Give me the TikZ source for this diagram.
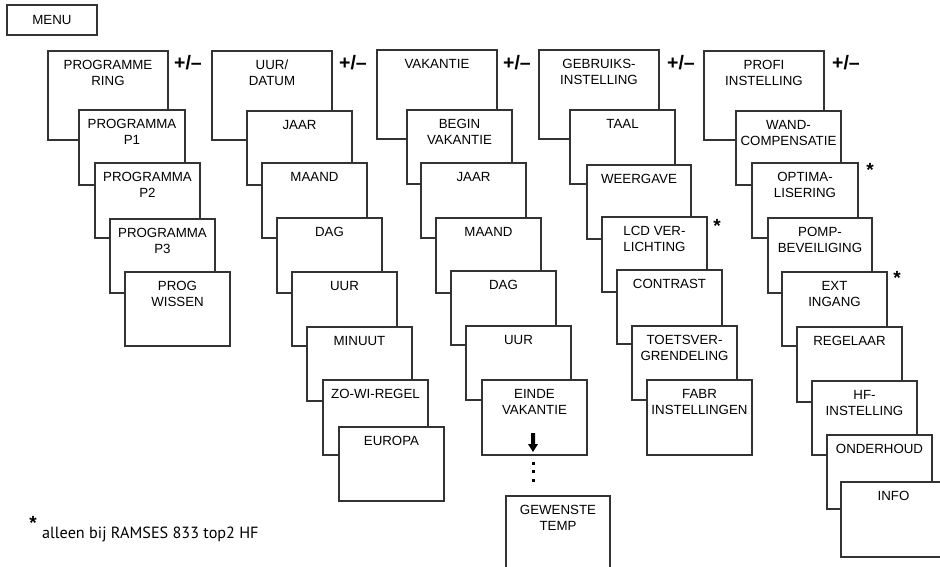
\documentclass[tikz,border=0pt]{standalone}
\usepackage{fontspec}
\setmainfont{Liberation Sans}
\newfontfamily\notefont{PT Sans}
\newcommand\mb[3]{\parbox[t][#2pt][t]{#1pt}{\centering\hyphenpenalty=10000\rule{0pt}{18.5pt}#3\par}}
\begin{document}
\begin{tikzpicture}[x=1pt,y=-1pt,
  mbox/.style={draw=black!80, fill=white, line width=1.1pt, inner sep=0pt, outer sep=0pt, anchor=north west,
    font=\fontsize{13.3}{16}\selectfont},
  pm/.style={font=\fontsize{19.5}{19.5}\selectfont\bfseries, inner sep=0pt},
  star/.style={font=\fontsize{19}{19}\selectfont\bfseries, inner sep=0pt}]
\useasboundingbox (0,0) rectangle (940,567);
\clip (0,0) rectangle (940,567);
% MENU
\node[mbox] (menu) at (7,5) {\parbox[t][30pt][t]{90pt}{\centering\rule{0pt}{19.5pt}MENU\par}};
% column 1
\node[mbox] (c1h) at (48,51) {\mb{120}{89}{PROGRAMME\\RING}};
\node[mbox] (c1a) at (79,110) {\mb{106}{75}{PROGRAMMA\\P1}};
\node[mbox] (c1b) at (95,163) {\mb{105}{75}{PROGRAMMA\\P2}};
\node[mbox] (c1c) at (110,219) {\mb{105}{74}{PROGRAMMA\\P3}};
\node[mbox] (c1d) at (125,272) {\mb{105}{74}{PROG\\WISSEN}};
% column 2
\node[mbox] (c2h) at (212,51) {\mb{120}{89}{UUR/\\DATUM}};
\node[mbox] (c2a) at (247,111) {\mb{105}{74}{JAAR}};
\node[mbox] (c2b) at (262,163) {\mb{105}{75}{MAAND}};
\node[mbox] (c2c) at (277,218) {\mb{105}{75}{DAG}};
\node[mbox] (c2d) at (292,272) {\mb{105}{74}{UUR}};
\node[mbox] (c2e) at (307,327) {\mb{105}{74}{MINUUT}};
\node[mbox] (c2f) at (323,380) {\mb{105}{75}{ZO-WI-REGEL}};
\node[mbox] (c2g) at (339,427) {\mb{105}{74}{EUROPA}};
% column 3
\node[mbox] (c3h) at (377,50) {\mb{120}{89}{VAKANTIE}};
\node[mbox] (c3a) at (407,110) {\mb{105}{74}{BEGIN\\VAKANTIE}};
\node[mbox] (c3b) at (421,163) {\mb{105}{75}{JAAR}};
\node[mbox] (c3c) at (436,218) {\mb{105}{75}{MAAND}};
\node[mbox] (c3d) at (451,271) {\mb{105}{74}{DAG}};
\node[mbox] (c3e) at (466,326) {\mb{105}{74}{UUR}};
\node[mbox] (c3f) at (482,380) {\mb{105}{75}{EINDE\\VAKANTIE}};
\node[mbox] (c3g) at (506,496) {\mb{104}{80}{GEWENSTE\\TEMP}};
% arrow and dots
\fill[black] (531,433) -- (535,433) -- (535,444) -- (538,444) -- (533,452) -- (528,444) -- (531,444) -- cycle;
\foreach \yy in {463,471.5,480} \fill[black] (531.5,\yy-1.5) rectangle (534.5,\yy+1.5);
% column 4
\node[mbox] (c4h) at (539,50) {\mb{120}{89}{GEBRUIKS-\\INSTELLING}};
\node[mbox] (c4a) at (570,110) {\mb{105}{74}{TAAL}};
\node[mbox] (c4b) at (587,165) {\mb{104}{74}{WEERGAVE}};
\node[mbox] (c4c) at (602,217) {\mb{105}{75}{LCD VER-\\LICHTING}};
\node[mbox] (c4d) at (617,270) {\mb{105}{74}{CONTRAST}};
\node[mbox] (c4e) at (632,326) {\mb{105}{74}{TOETSVER-\\GRENDELING}};
\node[mbox] (c4f) at (647,380) {\mb{105}{75}{FABR\\INSTELLINGEN}};
% column 5
\node[mbox] (c5h) at (704,51) {\mb{120}{89}{PROFI\\INSTELLING}};
\node[mbox] (c5a) at (736,111) {\mb{105}{74}{WAND-\\COMPENSATIE}};
\node[mbox] (c5b) at (752,163) {\mb{106}{75}{OPTIMA-\\LISERING}};
\node[mbox] (c5c) at (768,218) {\mb{104}{75}{POMP-\\BEVEILIGING}};
\node[mbox] (c5d) at (782,272) {\mb{105}{74}{EXT\\INGANG}};
\node[mbox] (c5e) at (797,327) {\mb{105}{75}{REGELAAR}};
\node[mbox] (c5f) at (812,381) {\mb{105}{74}{HF-\\INSTELLING}};
\node[mbox] (c5g) at (827,435) {\mb{105}{74}{ONDERHOUD}};
\node[mbox] (c5i) at (841,482) {\mb{112}{75}{INFO\hspace*{7pt}}};
% +/- labels
\node[pm] (pm1) at (188,63) {+/–};
\node[pm] (pm2) at (353,63) {+/–};
\node[pm] (pm3) at (517,63) {+/–};
\node[pm] (pm4) at (681,63) {+/–};
\node[pm] (pm5) at (846,63) {+/–};
% stars
\node[star] (s1) at (717,226) {*};
\node[star] (s2) at (870,170) {*};
\node[star] (s3) at (897,278) {*};
% footnote
\node[star] (s4) at (33,523) {*};
\node[anchor=base west, inner sep=0pt, font=\notefont\fontsize{16.2}{16.2}\selectfont] (note) at (42,538) {alleen bij RAMSES 833 top2 HF};
\end{tikzpicture}
\end{document}
